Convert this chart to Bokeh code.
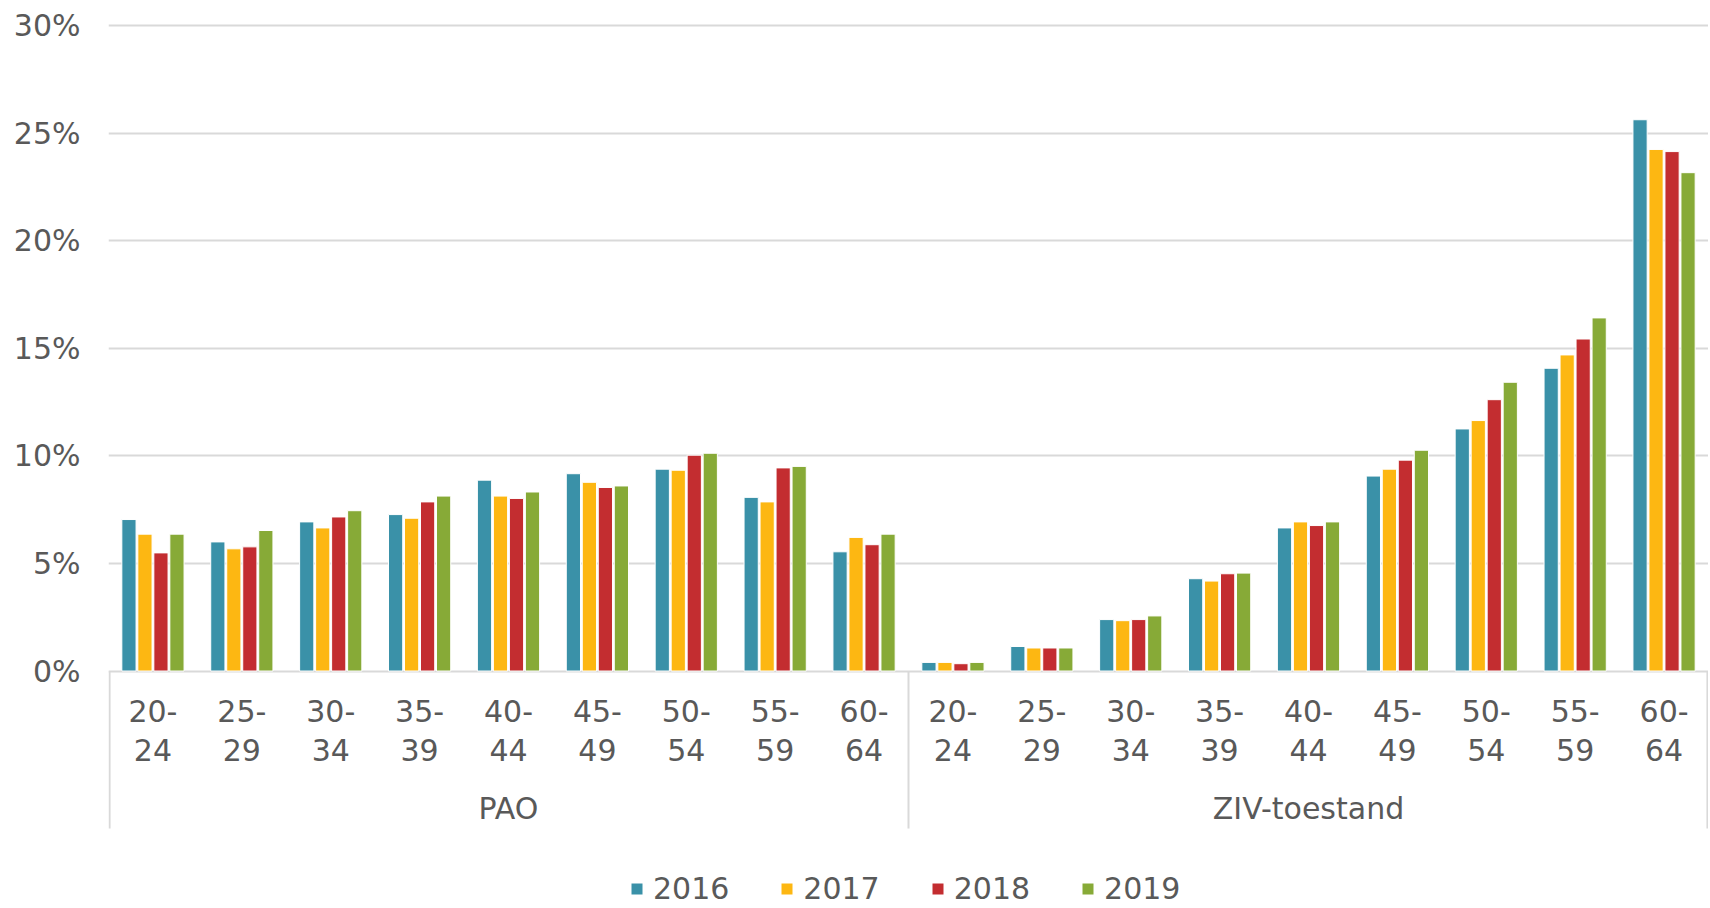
from bokeh.plotting import figure
from bokeh.models import (FactorRange, ColumnDataSource, Legend, LegendItem,
                          FixedTicker, CustomJSTickFormatter, Range1d)
from bokeh.core.properties import value
from bokeh.transform import dodge
from bokeh.embed import file_html
from bokeh.resources import INLINE

groups = ["PAO", "ZIV-toestand"]
age_bands = ["20-24", "25-29", "30-34", "35-39", "40-44",
             "45-49", "50-54", "55-59", "60-64"]
years = ["2016", "2017", "2018", "2019"]

pao_2016 = [7.04, 6.00, 6.93, 7.27, 8.87, 9.17, 9.38, 8.07, 5.54]
pao_2017 = [6.36, 5.68, 6.65, 7.10, 8.13, 8.77, 9.33, 7.86, 6.21]
pao_2018 = [5.49, 5.77, 7.16, 7.86, 8.02, 8.53, 10.03, 9.44, 5.87]
pao_2019 = [6.36, 6.53, 7.45, 8.13, 8.32, 8.60, 10.12, 9.51, 6.36]

ziv_2016 = [0.40, 1.14, 2.39, 4.29, 6.65, 9.06, 11.25, 14.07, 25.62]
ziv_2017 = [0.40, 1.07, 2.34, 4.18, 6.93, 9.38, 11.64, 14.69, 24.24]
ziv_2018 = [0.34, 1.07, 2.39, 4.52, 6.76, 9.80, 12.61, 15.43, 24.14]
ziv_2019 = [0.40, 1.07, 2.56, 4.55, 6.93, 10.26, 13.42, 16.41, 23.16]

colors = ["#3A91A8", "#FDB712", "#C32D30", "#87AA37"]
y_ticks = [0, 5, 10, 15, 20, 25, 30]

factors = [(g, a) for g in groups for a in age_bands]
data = {
    "x": factors,
    "top_line": [a.split("-")[0] + "-" for g in groups for a in age_bands],
    "bottom_line": [a.split("-")[1] for g in groups for a in age_bands],
    "2016": pao_2016 + ziv_2016,
    "2017": pao_2017 + ziv_2017,
    "2018": pao_2018 + ziv_2018,
    "2019": pao_2019 + ziv_2019,
}
source = ColumnDataSource(data)

TXT = "#595959"
FONT = "DejaVu Sans"
GRID = "#D9D9D9"

# value axis: 30% at top, space below 0 for the category labels and legend
p = figure(x_range=FactorRange(*factors, group_padding=0, range_padding=0),
           y_range=Range1d(-10.944, 30.093),
           width=1708, height=906, output_backend="svg",
           toolbar_location=None, min_border_left=108, min_border_right=0,
           min_border_top=23, min_border_bottom=0)
p.outline_line_color = None
p.background_fill_color = "white"
p.border_fill_color = "white"

offsets = [-0.27, -0.09, 0.09, 0.27]
renderers = []
for yr, col, off in zip(years, colors, offsets):
    r = p.vbar(x=dodge("x", off, range=p.x_range), top=yr, width=0.16,
               source=source, fill_color=col, line_color="white", line_width=1)
    renderers.append(r)

# y axis
p.yaxis.ticker = FixedTicker(ticks=y_ticks)
p.yaxis.formatter = CustomJSTickFormatter(code="return tick + '%';")
p.yaxis.axis_line_color = None
p.yaxis.major_tick_line_color = None
p.yaxis.minor_tick_line_color = None
p.yaxis.major_label_standoff = 22
p.yaxis.major_label_text_font = FONT
p.yaxis.major_label_text_font_size = "30px"
p.yaxis.major_label_text_color = TXT

p.ygrid.ticker = FixedTicker(ticks=y_ticks)
p.ygrid.grid_line_color = GRID
p.ygrid.grid_line_width = 2
p.xgrid.grid_line_color = None
p.xaxis.visible = False

# category labels (two lines) drawn under the zero line
txt_kw = dict(text_font=value(FONT), text_font_size="30px", text_color=TXT,
              text_align="center", text_baseline="middle")
p.text(x="x", y=-1.88, text="top_line", source=source, **txt_kw)
p.text(x="x", y=-3.65, text="bottom_line", source=source, **txt_kw)

# group labels
p.text(x=groups, y=[-6.39] * len(groups), text=groups, **txt_kw)

# separators of the multi-level category axis
n = len(age_bands)
sep_x = [0.012] + [n * (i + 1) for i in range(len(groups) - 1)] + [n * len(groups) - 0.012]
p.segment(x0=sep_x, y0=[0] * len(sep_x), x1=sep_x, y1=[-7.32] * len(sep_x),
          line_color=GRID, line_width=2)

legend = Legend(items=[LegendItem(label=y, renderers=[r]) for y, r in zip(years, renderers)],
                orientation="horizontal", location=(521, 0),
                label_text_font=FONT, label_text_font_size="30px",
                label_text_color=TXT, glyph_width=15, glyph_height=15,
                label_height=22, label_standoff=9, spacing=50, padding=0, margin=0,
                border_line_color=None, background_fill_alpha=0)
p.add_layout(legend)

open("out.html", "w").write(file_html(p, INLINE))
